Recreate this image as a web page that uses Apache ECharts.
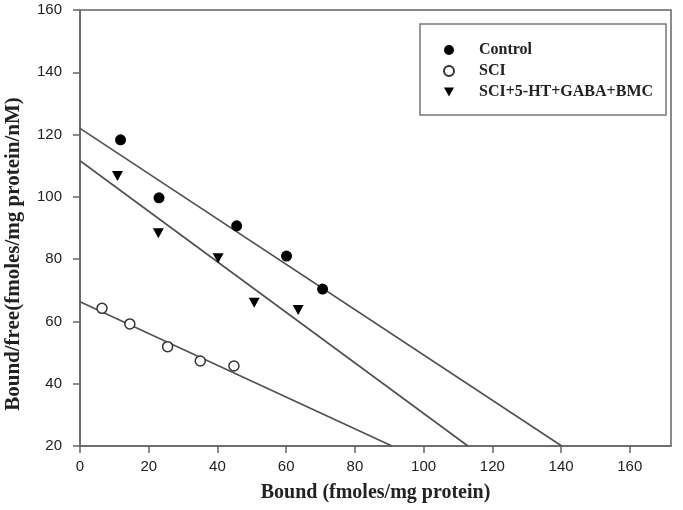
<!DOCTYPE html>
<html>
<head>
<meta charset="utf-8">
<script src="https://cdn.jsdelivr.net/npm/echarts@6/dist/echarts.min.js"></script>
<style>
html,body{margin:0;padding:0;background:#fff;}
#chart{width:683px;height:510px;}
</style>
</head>
<body>
<div id="chart"></div>
<script>
var seriesNames = ['Control', 'SCI', 'SCI+5-HT+GABA+BMC'];
var controlX = [11.8, 23.0, 45.6, 60.1, 70.6];
var controlY = [118.3, 99.7, 90.7, 81.0, 70.4];
var sciX = [6.4, 14.5, 25.5, 35.0, 44.8];
var sciY = [64.2, 59.2, 51.9, 47.3, 45.7];
var triX = [10.9, 22.8, 40.2, 50.7, 63.5];
var triY = [106.7, 88.3, 80.3, 66.0, 63.7];
// regression line endpoints [x, y]
var controlFit = [[0, 122.0], [140.2, 20]];
var sciFit = [[0, 66.3], [90.8, 20]];
var triFit = [[0, 111.6], [112.9, 20]];
var xTicks = [0, 20, 40, 60, 80, 100, 120, 140, 160];
var yTicks = [20, 40, 60, 80, 100, 120, 140, 160];

function pairs(xs, ys) { return xs.map(function (x, i) { return [x, ys[i]]; }); }

var chart = echarts.init(document.getElementById('chart'), null, {renderer: 'canvas'});
var axisCol = '#666';
var tickFont = {fontFamily: 'Liberation Sans, Arial, sans-serif', fontSize: 15, color: '#222'};
var triPath = 'path://M0,0 L10,0 L5,9 Z';

var fitStyle = {color: '#505050', width: 1.6};
function fitSeries(data) {
  return {type: 'line', data: data, symbol: 'none', silent: true,
    lineStyle: fitStyle, z: 1, animation: false};
}

chart.setOption({
  animation: false,
  backgroundColor: '#fff',
  grid: {left: 80, right: 12, top: 10, bottom: 64, show: true, borderColor: axisCol, borderWidth: 1.5,
    containLabel: false, outerBoundsMode: 'none'},
  graphic: [{type: 'rect', shape: {x: 420, y: 24, width: 246, height: 91},
    style: {fill: '#fff', stroke: '#777', lineWidth: 1.5}, z: 5}],
  legend: {
    data: seriesNames,
    orient: 'vertical',
    left: 438, top: 37,
    itemWidth: 10, itemHeight: 10, itemGap: 5,
    z: 10,
    formatter: function (n) { return '{a|' + n + '}'; },
    textStyle: {
      rich: {a: {fontFamily: 'Liberation Serif, Times New Roman, serif', fontWeight: 'bold',
        fontSize: 16, color: '#222', padding: [0, 0, 0, 20], lineHeight: 18.5}}
    }
  },
  xAxis: {
    type: 'value', min: 0, max: 172, interval: 20,
    name: 'Bound (fmoles/mg protein)', nameLocation: 'middle', nameGap: 37,
    nameTextStyle: {fontFamily: 'Liberation Serif, Times New Roman, serif', fontWeight: 'bold', fontSize: 20, color: '#222'},
    axisLine: {show: true, lineStyle: {color: axisCol, width: 1.5}},
    axisTick: {show: true, length: 7, customValues: xTicks, lineStyle: {color: axisCol, width: 1.5}},
    splitLine: {show: false},
    axisLabel: Object.assign({margin: 13, customValues: xTicks}, tickFont)
  },
  yAxis: {
    type: 'value', min: 20, max: 160, interval: 20,
    name: 'Bound/free(fmoles/mg protein/nM)', nameLocation: 'middle', nameGap: 56, nameRotate: 90,
    nameTextStyle: {fontFamily: 'Liberation Serif, Times New Roman, serif', fontWeight: 'bold', fontSize: 21, color: '#222',
      padding: [0, 52, 0, 0]},
    axisLine: {show: true, lineStyle: {color: axisCol, width: 1.5}},
    axisTick: {show: true, length: 7, customValues: yTicks, lineStyle: {color: axisCol, width: 1.5}},
    splitLine: {show: false},
    axisLabel: Object.assign({margin: 18, customValues: yTicks}, tickFont)
  },
  series: [
    {name: seriesNames[0], type: 'scatter', data: pairs(controlX, controlY), symbol: 'circle', symbolSize: 11,
      itemStyle: {color: '#000', opacity: 1}, z: 3},
    {name: seriesNames[1], type: 'scatter', data: pairs(sciX, sciY), symbol: 'circle', symbolSize: 10,
      itemStyle: {color: '#fff', borderColor: '#333', borderWidth: 1.5, opacity: 1}, z: 3},
    {name: seriesNames[2], type: 'scatter', data: pairs(triX, triY), symbol: triPath, symbolSize: [11, 10],
      itemStyle: {color: '#000', opacity: 1}, z: 3},
    fitSeries(controlFit),
    fitSeries(sciFit),
    fitSeries(triFit)
  ]
});
</script>
</body>
</html>
